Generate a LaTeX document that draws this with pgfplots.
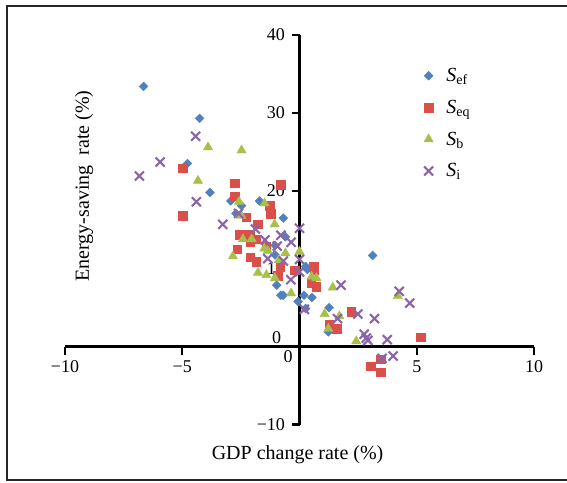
\documentclass[border=0pt]{standalone}
\usepackage{pgfplots}
\pgfplotsset{compat=1.18}
\usepackage{fontspec}
\setmainfont{Liberation Serif}
\definecolor{cef}{HTML}{4F81BD}
\definecolor{ceq}{HTML}{DB4F4B}
\definecolor{cb}{HTML}{A9BF4B}
\definecolor{ci}{HTML}{8A66A8}
\begin{document}
\begin{tikzpicture}[x=1pt,y=1pt]
\useasboundingbox (0,0) rectangle (567,482);
\draw[line width=1.6pt, black!85] (572,476) -- (7,476) -- (7,2) -- (572,2);
\begin{axis}[
 at={(65pt,57.4pt)}, anchor=south west,
 scale only axis, width=469pt, height=389.6pt,
 xmin=-10,xmax=10,ymin=-10,ymax=40,
 axis lines=middle, axis line style={-, line width=2.4pt},
 xtick={-10,-5,5,10}, xticklabels={−10,−5,5,10},
 ytick={-10,10,20,30,40}, yticklabels={−10,10,20,30,40},
 tick align=outside, major tick length=8pt, tick style={line width=2.4pt, black},
 ticklabel style={font=\fontsize{18}{20}\selectfont},
 xticklabel style={yshift=-2pt},
 yticklabel style={xshift=-3pt},
 clip=false,
 legend style={at={(axis cs:5.3,36.0)}, anchor=north west, draw=none, fill=none,
   font=\fontsize{20}{22}\selectfont, row sep=13pt, inner sep=0pt},
 legend cell align=left,
]
\addplot[only marks, mark=diamond*, mark size=4.4pt, mark options={xscale=1.35}, color=cef] table {
-6.65 33.4
-4.26 29.3
-4.78 23.5
-3.82 19.8
-2.93 18.7
-2.47 18.1
-2.71 17.1
-1.70 18.7
-0.69 16.5
-0.60 14.1
-1.04 13.0
-1.05 11.8
-0.97 7.9
-0.80 6.6
-0.70 6.6
-0.06 5.8
0.19 6.6
0.53 6.3
0.26 4.9
0.26 10.3
0.34 9.9
1.26 5.0
1.23 1.9
3.12 11.7
};
\addlegendentry{\hspace{11pt}\textit{S}\textsubscript{ef}}
\addplot[only marks, mark=square*, mark size=4.3pt, color=ceq] table {
-4.97 22.9
-4.97 16.8
-2.76 21.0
-2.76 19.3
-2.56 14.4
-2.65 12.5
-2.13 14.4
-2.11 13.4
-2.11 11.5
-1.85 10.9
-2.28 16.6
-1.77 15.7
-1.84 13.8
-1.27 18.1
-1.23 17.1
-1.42 12.9
-0.79 20.8
-0.94 9.1
-0.83 10.3
-0.21 9.8
0.61 10.3
0.63 9.9
0.50 8.2
0.72 7.7
1.27 2.9
1.59 2.3
2.20 4.5
3.04 -2.5
3.45 -1.6
3.45 -3.3
5.16 1.2
};
\addlegendentry{\hspace{11pt}\textit{S}\textsubscript{eq}}
\addplot[only marks, mark=triangle*, mark size=5.4pt, color=cb] table {
-3.90 25.6
-2.47 25.2
-4.33 21.3
-2.58 18.6
-1.49 18.4
-2.48 16.8
-1.06 15.7
-2.41 13.8
-2.04 13.8
-2.84 11.6
-1.50 12.6
-1.35 12.3
-0.60 12.0
0.00 12.2
-0.89 11.1
-1.77 9.5
-1.41 9.2
-1.05 8.8
-0.36 6.85
0.52 9.0
0.72 8.8
1.42 7.6
1.07 4.2
1.70 3.9
1.23 2.3
2.42 0.7
4.19 6.5
};
\addlegendentry{\hspace{11pt}\textit{S}\textsubscript{b}}
\addplot[only marks, mark=x, mark size=6.4pt, line width=2.1pt, color=ci] table {
-6.83 21.9
-5.94 23.7
-4.43 27.0
-4.40 18.6
-3.27 15.7
-2.60 17.1
-1.88 15.1
-1.47 13.7
-0.95 12.9
-0.79 14.3
-0.36 13.4
0.00 15.2
-1.35 11.3
-0.69 11.0
-0.37 8.6
0.00 11.2
0.00 9.6
0.21 4.8
1.77 7.9
1.62 3.6
2.49 4.2
3.20 3.6
2.76 1.6
2.92 0.8
2.85 1.1
3.74 0.9
3.52 -1.5
3.99 -1.2
4.25 7.1
4.70 5.6
};
\addlegendentry{\hspace{11pt}\textit{S}\textsubscript{i}}
\end{axis}
\node[font=\fontsize{18}{20}\selectfont] at (276.7,144) {0};
\node[font=\fontsize{18}{20}\selectfont] at (288,125) {0};
\node[font=\fontsize{20}{22}\selectfont] at (297.6,27) {GDP change rate (\%)};
\node[rotate=90, font=\fontsize{20}{22}\selectfont] at (84,296) {Energy-saving\ \ rate (\%)};
\end{tikzpicture}
\end{document}
